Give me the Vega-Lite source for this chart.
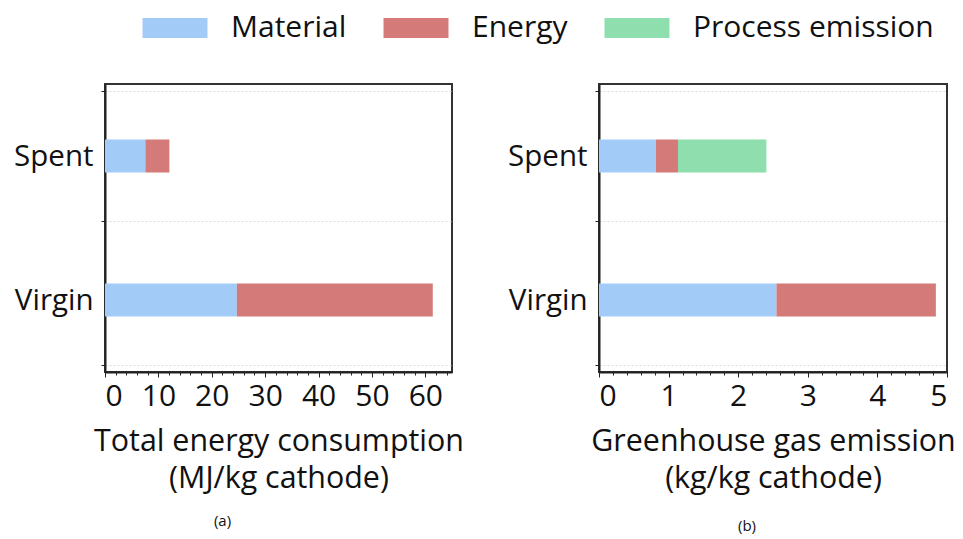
{
  "$schema": "https://vega.github.io/schema/vega-lite/v6.json",
  "padding": {"left": 12, "top": 13, "right": 5, "bottom": 5},
  "background": "white",
  "config": {
    "font": "Open Sans",
    "view": {"stroke": "#333", "strokeWidth": 2},
    "axis": {
      "labelFont": "Open Sans",
      "titleFont": "Open Sans",
      "labelColor": "#111",
      "titleColor": "#111",
      "domainColor": "#222",
      "domainWidth": 2,
      "tickColor": "#222",
      "titleFontWeight": "normal"
    },
    "legend": {"labelFont": "Open Sans"}
  },
  "datasets": {
    "energy": [
      {"type": "Spent", "component": "Material", "value": 7.56},
      {"type": "Spent", "component": "Energy", "value": 4.5},
      {"type": "Virgin", "component": "Material", "value": 24.7},
      {"type": "Virgin", "component": "Energy", "value": 36.7}
    ],
    "ghg": [
      {"type": "Spent", "component": "Material", "value": 0.815},
      {"type": "Spent", "component": "Energy", "value": 0.32},
      {"type": "Spent", "component": "Process emission", "value": 1.27},
      {"type": "Virgin", "component": "Material", "value": 2.55},
      {"type": "Virgin", "component": "Energy", "value": 2.29}
    ]
  },
  "spacing": 41,
  "hconcat": [
    {
      "data": {"name": "energy"},
      "transform": [{"calculate": "indexof(['Material','Energy','Process emission'], datum.component)", "as": "stackOrder"}],
      "width": 347,
      "height": 288,
      "title": {"text": "(a)", "orient": "bottom", "fontSize": 15, "fontWeight": "normal", "font": "Open Sans", "offset": 20, "dx": -56, "color": "#111"},
      "mark": {"type": "bar", "height": 33},
      "encoding": {
        "y": {
          "field": "type", "type": "nominal", "sort": ["Spent", "Virgin"],
          "axis": {"title": null, "labelFontSize": 29.5, "labelPadding": 8, "tickBand": "extent", "tickSize": 4, "grid": true, "gridColor": "#ddd", "gridDash": [2, 2], "gridWidth": 1}
        },
        "x": {
          "field": "value", "type": "quantitative", "stack": "zero",
          "scale": {"domain": [0, 65], "nice": false},
          "axis": {
            "title": ["Total energy consumption", "(MJ/kg cathode)"],
            "titleFontSize": 30.4, "titleLineHeight": 37.5, "titlePadding": 15,
            "labelFontSize": 30, "labelPadding": 4, "grid": false,
            "values": [0,2,4,6,8,10,12,14,16,18,20,22,24,26,28,30,32,34,36,38,40,42,44,46,48,50,52,54,56,58,60,62,64],
            "labelExpr": "datum.value % 10 === 0 ? datum.label : ''",
            "tickSize": {"condition": {"test": "datum.value % 10 === 0", "value": 5}, "value": 3},
            "labelOverlap": false
          }
        },
        "order": {"field": "stackOrder", "type": "quantitative"},
        "color": {
          "field": "component", "type": "nominal",
          "scale": {"domain": ["Material", "Energy", "Process emission"], "range": ["#a3cbf8", "#d47b79", "#8fdead"]},
          "legend": {
            "title": null, "orient": "none", "direction": "horizontal",
            "legendX": 55, "legendY": -71,
            "symbolType": "M-3,-0.923H3V0.923H-3Z", "symbolSize": 469, "symbolStrokeWidth": 0,
            "labelFontSize": 30, "labelOffset": 41, "columnPadding": 36, "labelColor": "#111", "labelLimit": 0
          }
        }
      }
    },
    {
      "data": {"name": "ghg"},
      "transform": [{"calculate": "indexof(['Material','Energy','Process emission'], datum.component)", "as": "stackOrder"}],
      "width": 348,
      "height": 288,
      "title": {"text": "(b)", "orient": "bottom", "fontSize": 15, "fontWeight": "normal", "font": "Open Sans", "offset": 25, "dx": -26, "color": "#111"},
      "mark": {"type": "bar", "height": 33},
      "encoding": {
        "y": {
          "field": "type", "type": "nominal", "sort": ["Spent", "Virgin"],
          "axis": {"title": null, "labelFontSize": 29.5, "labelPadding": 8, "tickBand": "extent", "tickSize": 4, "grid": true, "gridColor": "#ddd", "gridDash": [2, 2], "gridWidth": 1}
        },
        "x": {
          "field": "value", "type": "quantitative", "stack": "zero",
          "scale": {"domain": [0, 5], "nice": false},
          "axis": {
            "title": ["Greenhouse gas emission", "(kg/kg cathode)"],
            "titleFontSize": 30.4, "titleLineHeight": 37.5, "titlePadding": 15,
            "labelFontSize": 30, "labelPadding": 4, "grid": false, "format": "~g",
            "values": [0,0.2,0.4,0.6,0.8,1,1.2,1.4,1.6,1.8,2,2.2,2.4,2.6,2.8,3,3.2,3.4,3.6,3.8,4,4.2,4.4,4.6,4.8,5],
            "labelExpr": "abs(datum.value - round(datum.value)) < 0.001 ? datum.label : ''",
            "tickSize": {"condition": {"test": "abs(datum.value - round(datum.value)) < 0.001", "value": 5}, "value": 3},
            "labelOverlap": false
          }
        },
        "order": {"field": "stackOrder", "type": "quantitative"},
        "color": {
          "field": "component", "type": "nominal"
        }
      }
    }
  ]
}
